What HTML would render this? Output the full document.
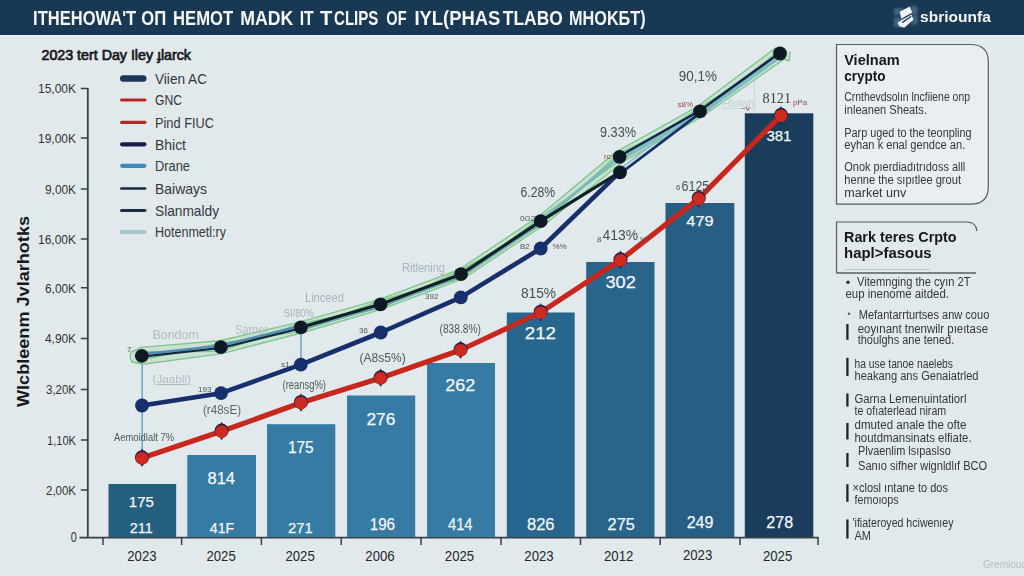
<!DOCTYPE html>
<html>
<head>
<meta charset="utf-8">
<title>Chart</title>
<style>
  html, body { margin: 0; padding: 0; }
  body { width: 1024px; height: 576px; overflow: hidden; background: #e2e9ec; font-family: "Liberation Sans", sans-serif; }
  svg { display: block; position: absolute; left: 0; top: 0; }
  svg text { font-family: "Liberation Sans", sans-serif; }
  .wl { fill: #f3f7fa; stroke: #f3f7fa; stroke-width: 0.25px; }
  .yl { fill: #2f3438; font-size: 13.5px; }
  .xl { fill: #22272c; font-size: 15px; }
  .lg { fill: #33383d; font-size: 15px; }
  .sm { fill: #b1bbc1; font-size: 12px; }
  .sd { fill: #50575d; font-size: 12.5px; }
  .md { fill: #474e54; font-size: 14px; }
  .pt { fill: #32373b; font-size: 12.5px; }
  .ph { fill: #14171a; font-size: 15px; font-weight: bold; }
</style>
</head>
<body>
<svg width="1024" height="576" viewBox="0 0 1024 576">
  <defs>
    <filter id="soft" filterUnits="userSpaceOnUse" x="0" y="0" width="1024" height="576"><feGaussianBlur stdDeviation="0.45"/></filter>
    <filter id="soft2" filterUnits="userSpaceOnUse" x="0" y="0" width="1024" height="576"><feGaussianBlur stdDeviation="0.9"/></filter>
  </defs>
  <rect x="0" y="0" width="1024" height="576" fill="#e2e9ec"/>

  <rect x="0" y="35" width="1024" height="1.200" fill="#edf2f4"/>
  <rect x="0" y="0" width="1024" height="35" fill="#183853"/>
  <g font-size="21" font-weight="bold" fill="#f5f7f9" filter="url(#soft)">
    <text x="33.1" y="25" textLength="103.1" lengthAdjust="spacingAndGlyphs">ITHEHOWA'T</text>
    <text x="141.3" y="25" textLength="24.9" lengthAdjust="spacingAndGlyphs">OΠ</text>
    <text x="173.1" y="25" textLength="60" lengthAdjust="spacingAndGlyphs">HEMOT</text>
    <text x="240.3" y="25" textLength="53.1" lengthAdjust="spacingAndGlyphs">MADK</text>
    <text x="299.7" y="25" textLength="14" lengthAdjust="spacingAndGlyphs">IT</text>
    <text x="320" y="25" textLength="12.3" lengthAdjust="spacingAndGlyphs">T</text>
    <text x="334" y="25" textLength="44.4" lengthAdjust="spacingAndGlyphs">CLIPS</text>
    <text x="386.3" y="25" textLength="20.3" lengthAdjust="spacingAndGlyphs">OF</text>
    <text x="414.4" y="25" textLength="85.9" lengthAdjust="spacingAndGlyphs">IYL(PHAS</text>
    <text x="502.8" y="25" textLength="60" lengthAdjust="spacingAndGlyphs">TLABO</text>
    <text x="569" y="25" textLength="76.6" lengthAdjust="spacingAndGlyphs">MHOKБT)</text>
  </g>
  <g id="logo">
    <g fill="#9bb9d4" opacity="0.330" filter="url(#soft2)">
      <rect x="894" y="8" width="9.500" height="7"/>
      <rect x="910.500" y="6" width="7" height="8"/>
      <rect x="894" y="17.500" width="8.500" height="9.500"/>
      <rect x="911.500" y="15" width="6" height="9.500"/>
    </g>
    <g fill="#f1f5f8" filter="url(#soft)">
      <path d="M899.800 11.800 L909.600 6.400 L912.300 12.600 L901.300 18.700 Z"/>
      <path d="M897.600 22.400 L911.400 14.600 L913.400 19.800 L904.300 27.800 L899.300 26.300 Z"/>
    </g>
    <path d="M902.300 22.600 L911.200 16.200" stroke="#183853" stroke-width="1.300" fill="none"/>
  </g>
  <text x="920" y="22.300" font-size="15.500" font-weight="bold" fill="#f5f7f9" textLength="70.800" lengthAdjust="spacingAndGlyphs" filter="url(#soft)">sbriounfa</text>
  <text x="41.500" y="60" font-size="14.500" fill="#15191d" stroke="#15191d" stroke-width="0.700" textLength="149.500" lengthAdjust="spacingAndGlyphs">2023 tert Day Iley ɟlarck</text>
  <g id="legend" stroke-linecap="round">
    <line x1="123.25" y1="78.5" x2="143.25" y2="78.5" stroke="#1d3759" stroke-width="6.5"/>
    <line x1="121.6" y1="100" x2="144.9" y2="100" stroke="#b32a22" stroke-width="3.2"/>
    <line x1="121.6" y1="122.3" x2="144.9" y2="122.3" stroke="#b32a22" stroke-width="3.2"/>
    <line x1="122.1" y1="144.3" x2="144.4" y2="144.3" stroke="#191c47" stroke-width="4.2"/>
    <line x1="122.1" y1="165.8" x2="144.4" y2="165.8" stroke="#3f8cba" stroke-width="4.2"/>
    <line x1="121.3" y1="188.5" x2="145.2" y2="188.5" stroke="#1b2d40" stroke-width="2.6"/>
    <line x1="121.6" y1="210.5" x2="144.9" y2="210.5" stroke="#1b2d40" stroke-width="3.2"/>
    <line x1="122.1" y1="232" x2="144.4" y2="232" stroke="#a6c5cf" stroke-width="4.2"/>
  </g>
  <g class="lg">
    <text x="155" y="83.7" textLength="52" lengthAdjust="spacingAndGlyphs">Viien AC</text>
    <text x="155" y="105.2" textLength="27" lengthAdjust="spacingAndGlyphs">GNC</text>
    <text x="155" y="127.5" textLength="59" lengthAdjust="spacingAndGlyphs">Pind FIUC</text>
    <text x="155" y="149.5" textLength="31" lengthAdjust="spacingAndGlyphs">Bhict</text>
    <text x="155" y="171" textLength="35" lengthAdjust="spacingAndGlyphs">Drane</text>
    <text x="155" y="193.7" textLength="52" lengthAdjust="spacingAndGlyphs">Baiways</text>
    <text x="155" y="215.7" textLength="64" lengthAdjust="spacingAndGlyphs">Slanmaldy</text>
    <text x="155" y="237.2" textLength="71" lengthAdjust="spacingAndGlyphs">Hotenmetl:ry</text>
  </g>
  <g stroke="#3a4147" fill="none">
    <path d="M87.800 88 V538" stroke-width="1.800"/>
    <path d="M80.800 88.5 H87.500 M80.800 138 H87.500 M80.800 189 H87.500 M80.800 239 H87.500 M80.800 287.8 H87.500 M80.800 338.5 H87.500 M80.800 389.5 H87.500 M80.800 440 H87.500 M80.800 490 H87.500" stroke-width="1.500"/>
    <path d="M79.500 537.700 H818.700" stroke-width="1.700"/>
    <path d="M103 537.700 V545 M181.6 537.700 V545 M261.4 537.700 V545 M341.2 537.700 V545 M421 537.700 V545 M501 537.700 V545 M580.5 537.700 V545 M660.2 537.700 V545 M740 537.700 V545 M818 537.700 V545" stroke-width="1.500"/>
  </g>
  <g class="yl">
    <text x="38" y="93.3" textLength="38" lengthAdjust="spacingAndGlyphs">15,00K</text>
    <text x="38" y="142.8" textLength="38" lengthAdjust="spacingAndGlyphs">19,00K</text>
    <text x="45" y="193.8" textLength="31" lengthAdjust="spacingAndGlyphs">9,00K</text>
    <text x="38" y="243.8" textLength="38" lengthAdjust="spacingAndGlyphs">16,00K</text>
    <text x="45" y="292.6" textLength="31" lengthAdjust="spacingAndGlyphs">6,00K</text>
    <text x="45" y="343.3" textLength="31" lengthAdjust="spacingAndGlyphs">4,90K</text>
    <text x="46" y="394.3" textLength="30" lengthAdjust="spacingAndGlyphs">3,20K</text>
    <text x="47" y="444.8" textLength="29" lengthAdjust="spacingAndGlyphs">1,10K</text>
    <text x="46" y="494.8" textLength="30" lengthAdjust="spacingAndGlyphs">2,00K</text>
    <text x="70.800" y="541.500" font-size="14" textLength="6" lengthAdjust="spacingAndGlyphs">0</text>
  </g>
  <text transform="translate(28.700,311.500) rotate(-90)" font-size="16" font-weight="bold" fill="#15191d" text-anchor="middle" textLength="191" lengthAdjust="spacingAndGlyphs">Wlcbleenm Jvlarhotks</text>
  <g id="bars">
    <rect x="108.5" y="484" width="67.7" height="53" fill="#245f7f"/>
    <rect x="187.3" y="455" width="68.7" height="82" fill="#357ba4"/>
    <rect x="267" y="424.2" width="68.3" height="112.8" fill="#357ba4"/>
    <rect x="347" y="395.5" width="68.2" height="141.5" fill="#357ba4"/>
    <rect x="427" y="363" width="68" height="174" fill="#357ba4"/>
    <rect x="506.8" y="312.5" width="67.9" height="224.5" fill="#27678d"/>
    <rect x="586.2" y="262" width="68.3" height="275" fill="#29648b"/>
    <rect x="665.5" y="203" width="68.8" height="334" fill="#275e83"/>
    <rect x="744.8" y="113.3" width="68.5" height="423.7" fill="#1a3d5b"/>
  </g>
  <g class="xl">
    <text x="127.25" y="561.3" textLength="29.300" lengthAdjust="spacingAndGlyphs">2023</text>
    <text x="206.45" y="561.3" textLength="29.300" lengthAdjust="spacingAndGlyphs">2025</text>
    <text x="285.45" y="561.3" textLength="29.300" lengthAdjust="spacingAndGlyphs">2025</text>
    <text x="365.35" y="561.3" textLength="29.300" lengthAdjust="spacingAndGlyphs">2006</text>
    <text x="444.85" y="561.3" textLength="29.300" lengthAdjust="spacingAndGlyphs">2025</text>
    <text x="524.35" y="561.3" textLength="29.300" lengthAdjust="spacingAndGlyphs">2023</text>
    <text x="604.05" y="561.3" textLength="29.300" lengthAdjust="spacingAndGlyphs">2012</text>
    <text x="682.95" y="560" textLength="29.300" lengthAdjust="spacingAndGlyphs">2023</text>
    <text x="762.95" y="561.3" textLength="29.300" lengthAdjust="spacingAndGlyphs">2025</text>
  </g>
  <g class="wl">
    <text x="128.8" y="507.4" style="font-size:15.5px" textLength="25" lengthAdjust="spacingAndGlyphs">175</text>
    <text x="129.8" y="532.6" style="font-size:15.5px" textLength="23" lengthAdjust="spacingAndGlyphs">211</text>
    <text x="207.55" y="483.5" style="font-size:16px" textLength="27.5" lengthAdjust="spacingAndGlyphs">814</text>
    <text x="209.8" y="532.6" style="font-size:15.5px" textLength="24.4" lengthAdjust="spacingAndGlyphs">41F</text>
    <text x="287.95" y="452.6" style="font-size:16px" textLength="25.7" lengthAdjust="spacingAndGlyphs">175</text>
    <text x="288.05" y="532.6" style="font-size:15.5px" textLength="24.7" lengthAdjust="spacingAndGlyphs">271</text>
    <text x="366.5" y="425" style="font-size:16.7px" textLength="28.8" lengthAdjust="spacingAndGlyphs">276</text>
    <text x="369.75" y="530.3" style="font-size:16px" textLength="25.3" lengthAdjust="spacingAndGlyphs">196</text>
    <text x="445.3" y="391.4" style="font-size:17px" textLength="29.8" lengthAdjust="spacingAndGlyphs">262</text>
    <text x="448" y="530.3" style="font-size:16px" textLength="24.4" lengthAdjust="spacingAndGlyphs">414</text>
    <text x="524.8" y="339.4" style="font-size:17px" textLength="31" lengthAdjust="spacingAndGlyphs">212</text>
    <text x="527.05" y="530.3" style="font-size:16px" textLength="27.5" lengthAdjust="spacingAndGlyphs">826</text>
    <text x="605.45" y="287.8" style="font-size:17px" textLength="30.3" lengthAdjust="spacingAndGlyphs">302</text>
    <text x="607.6" y="530.3" style="font-size:16px" textLength="27.2" lengthAdjust="spacingAndGlyphs">275</text>
    <text x="686.35" y="225.5" style="font-size:15.5px" textLength="27.3" lengthAdjust="spacingAndGlyphs">479</text>
    <text x="686.65" y="527.9" style="font-size:16px" textLength="26.7" lengthAdjust="spacingAndGlyphs">249</text>
    <text x="766.4" y="141.3" style="font-size:15.5px" textLength="25" lengthAdjust="spacingAndGlyphs">381</text>
    <text x="766.35" y="527.9" style="font-size:16px" textLength="26.7" lengthAdjust="spacingAndGlyphs">278</text>
  </g>
  <g stroke="#6fa3c6" stroke-width="1.500" fill="none"><path d="M142.200 356 V458 M301 327 V365"/></g>
  <g stroke="#cdd5d9" stroke-width="1" fill="none"><path d="M754.500 81 V111 M722 108.500 H754.500"/></g>
  <path d="M131.5 351 L140.88 347.35 L219.66 340.8 L299.37 322.09 L378.92 299.55 L458.7 269.76 L537.73 217.18 L616.19 151.86 L697.02 106.78 L775.9 47.83 L790 52 L789 61 L784.1 59.17 L702.98 116.02 L623.01 161.74 L543.67 225.22 L463.3 278.64 L382.08 309.05 L302.23 332.71 L221.94 353.6 L142.72 364.25 L132 362 Z" fill="#a6d9ae" fill-opacity="0.420" stroke="none"/>
  <g fill="none" stroke="#7cc58a" stroke-width="1.400" stroke-linejoin="round" stroke-linecap="round" opacity="0.950">
    <path d="M131.5 352 L140.88 347.35 L219.66 340.8 L299.37 322.09 L378.92 299.55 L458.7 269.76 L537.73 217.18 L616.19 151.86 L697.02 106.78 L775.9 47.83"/>
    <path d="M132 362 L142.72 364.25 L221.94 353.6 L302.23 332.71 L382.08 309.05 L463.3 278.64 L543.67 225.22 L623.01 161.74 L702.98 116.02 L784.1 59.17 L789 61 L790 52"/>
    <path d="M141.8 351.8 L220.8 351.2 L300.8 323.4 L380.5 308.3 L461 270.2 L540.7 225.2 L619.6 152.8 L700 115.4 L780 49.5"/>
    <path d="M141.8 359.8 L220.8 343.2 L300.8 331.4 L380.5 300.3 L461 278.2 L540.7 217.2 L619.6 160.8 L700 107.4 L780 57.5"/>
    <path d="M131.500 352 Q128.500 357 132 362"/>
  </g>
  <path d="M141.8 354.2 L220.8 345.6 L300.8 325.8" fill="none" stroke="#4f8db8" stroke-width="2.400" stroke-linejoin="round"/>
  <path d="M301.4 329.8 L381.1 306.7 L461.6 276.6 L541.3 223.6" fill="none" stroke="#5a97b4" stroke-width="1.600" stroke-linejoin="round" opacity="0.800"/>
  <path d="M620.1 157.8 L700.5 112.4 L780.5 54.5" fill="none" stroke="#7ab8c2" stroke-width="6.500" stroke-linejoin="round" stroke-linecap="butt" opacity="0.900"/>
  <path d="M540.7 221.2 L619.6 156.8" fill="none" stroke="#7ab4bd" stroke-width="3" stroke-linejoin="round" stroke-linecap="round" opacity="0.950"/>
  <path d="M619.8 169.2 L700 108.4" fill="none" stroke="#86c0c1" stroke-width="2" stroke-linejoin="round" opacity="0.900"/>
  <path d="M142 405.5 L221 393.2 L300.8 364.7 L380.8 332.5 L460.8 297.4 L540.7 248.5 L619.8 172.2" fill="none" stroke="#17306b" stroke-width="4.600" stroke-linejoin="round" stroke-linecap="round"/>
  <path d="M620.4 173.4 L700.6 112.6" fill="none" stroke="#17306b" stroke-width="2.600" stroke-linejoin="round" stroke-linecap="round"/>
  <path d="M141.8 356.6 L220.8 348 L300.8 328.2" fill="none" stroke="#13283a" stroke-width="2.200" stroke-linejoin="round" stroke-linecap="round"/>
  <path d="M300.8 327.4 L380.5 304.3 L461 274.2 L540.7 221.2 L619.8 172.2" fill="none" stroke="#0f2226" stroke-width="3.200" stroke-linejoin="round" stroke-linecap="round"/>
  <path d="M619.3 156.2 L699.7 110.8 L779.7 52.9" fill="none" stroke="#11233f" stroke-width="2.300" stroke-linejoin="round" stroke-linecap="round"/>
  <path d="M142 458 L221.6 431.3 L301 402.7 L380.6 378 L460.6 350 L540.7 312.4 L620.5 260 L698.7 198.6 L781 115.5" fill="none" stroke="#c8271e" stroke-width="5.200" stroke-linejoin="round" stroke-linecap="round"/>
  <g fill="#17306b">
    <circle cx="142" cy="405.5" r="6.900"/>
    <circle cx="221" cy="393.2" r="6.900"/>
    <circle cx="300.8" cy="364.7" r="6.900"/>
    <circle cx="380.8" cy="332.5" r="6.900"/>
    <circle cx="460.8" cy="297.4" r="6.900"/>
    <circle cx="540.7" cy="248.5" r="6.900"/>
  </g>
  <g fill="#0e1926">
    <circle cx="141.8" cy="355.8" r="6.900"/>
    <circle cx="220.8" cy="347.2" r="6.900"/>
    <circle cx="300.8" cy="327.4" r="6.900"/>
    <circle cx="380.5" cy="304.3" r="6.900"/>
    <circle cx="461" cy="274.2" r="6.900"/>
    <circle cx="540.7" cy="221.2" r="6.900"/>
    <circle cx="619.6" cy="156.8" r="6.900"/>
    <circle cx="700" cy="111.4" r="6.900"/>
    <circle cx="780" cy="53.5" r="6.900"/>
    <circle cx="620" cy="172.3" r="6.900"/>
  </g>
  <g>
    <path d="M137 458 L142 448.5 L147 458 L142 467 Z" fill="#1f1d4a"/>
    <circle cx="142" cy="457.4" r="7.100" fill="#2a1f4a"/>
    <circle cx="142" cy="458.3" r="6.300" fill="#d02a20"/>
    <path d="M216.6 431.3 L221.6 421.8 L226.6 431.3 L221.6 440.3 Z" fill="#1f1d4a"/>
    <circle cx="221.6" cy="430.7" r="7.100" fill="#2a1f4a"/>
    <circle cx="221.6" cy="431.6" r="6.300" fill="#d02a20"/>
    <path d="M296 402.7 L301 393.2 L306 402.7 L301 411.7 Z" fill="#1f1d4a"/>
    <circle cx="301" cy="402.1" r="7.100" fill="#2a1f4a"/>
    <circle cx="301" cy="403" r="6.300" fill="#d02a20"/>
    <path d="M375.6 378 L380.6 368.5 L385.6 378 L380.6 387 Z" fill="#1f1d4a"/>
    <circle cx="380.6" cy="377.4" r="7.100" fill="#2a1f4a"/>
    <circle cx="380.6" cy="378.3" r="6.300" fill="#d02a20"/>
    <path d="M455.6 350 L460.6 340.5 L465.6 350 L460.6 359 Z" fill="#1f1d4a"/>
    <circle cx="460.6" cy="349.4" r="7.100" fill="#2a1f4a"/>
    <circle cx="460.6" cy="350.3" r="6.300" fill="#d02a20"/>
    <path d="M535.7 312.4 L540.7 302.9 L545.7 312.4 L540.7 321.4 Z" fill="#1f1d4a"/>
    <circle cx="540.7" cy="311.8" r="7.100" fill="#2a1f4a"/>
    <circle cx="540.7" cy="312.7" r="6.300" fill="#d02a20"/>
    <path d="M615.5 260 L620.5 250.5 L625.5 260 L620.5 269 Z" fill="#1f1d4a"/>
    <circle cx="620.5" cy="259.4" r="7.100" fill="#2a1f4a"/>
    <circle cx="620.5" cy="260.3" r="6.300" fill="#d02a20"/>
    <path d="M693.7 198.6 L698.7 189.1 L703.7 198.6 L698.7 207.6 Z" fill="#1f1d4a"/>
    <circle cx="698.7" cy="198" r="7.100" fill="#2a1f4a"/>
    <circle cx="698.7" cy="198.9" r="6.300" fill="#d02a20"/>
    <path d="M776 115.5 L781 106 L786 115.5 L781 124.5 Z" fill="#1f1d4a"/>
    <circle cx="781" cy="114.9" r="7.100" fill="#2a1f4a"/>
    <circle cx="781" cy="115.8" r="6.300" fill="#d02a20"/>
  </g>
  <g filter="url(#soft)">
    <text class="md" x="520.5" y="197" textLength="34.5" lengthAdjust="spacingAndGlyphs">6.28%</text>
    <text class="md" x="600" y="137" textLength="36" lengthAdjust="spacingAndGlyphs">9.33%</text>
    <text class="md" x="678.8" y="80.5" textLength="38.2" lengthAdjust="spacingAndGlyphs">90,1%</text>
    <text class="md" x="762.5" y="103" textLength="28.5" lengthAdjust="spacingAndGlyphs" style="font-family:'Liberation Serif';font-size:15px;fill:#3e4348">8121</text>
    <text class="md" x="681.5" y="190.8" textLength="27.8" lengthAdjust="spacingAndGlyphs">6125</text>
    <text class="md" x="602.5" y="240" textLength="35.5" lengthAdjust="spacingAndGlyphs">413%</text>
    <text class="md" x="521" y="298" textLength="35" lengthAdjust="spacingAndGlyphs">815%</text>
    <text class="sd" x="203" y="414" textLength="38" lengthAdjust="spacingAndGlyphs" style="fill:#5d646a">(r48sE)</text>
    <text class="sd" x="282.5" y="388.8" textLength="43.5" lengthAdjust="spacingAndGlyphs">(reansg%)</text>
    <text class="sd" x="359.5" y="361.8" textLength="46.2" lengthAdjust="spacingAndGlyphs">(A8s5%)</text>
    <text class="sd" x="439.5" y="332.5" textLength="41.5" lengthAdjust="spacingAndGlyphs">(838.8%)</text>
    <text class="sd" x="114" y="441.3" textLength="60" lengthAdjust="spacingAndGlyphs" style="font-size:10.500px">Aemoidlalt 7%</text>
  </g>
  <g filter="url(#soft)">
    <text class="sm" x="152.5" y="338.8" textLength="46.3" lengthAdjust="spacingAndGlyphs">Bondom</text>
    <text class="sm" x="235" y="333.8" textLength="33" lengthAdjust="spacingAndGlyphs">Sarner</text>
    <text class="sm" x="305" y="302" textLength="38.8" lengthAdjust="spacingAndGlyphs" style="font-size:12.500px;fill:#a7b3b9">Linceed</text>
    <text class="sm" x="402" y="272" textLength="43" lengthAdjust="spacingAndGlyphs" style="font-size:12.500px;fill:#a7b6bd">Ritlening</text>
    <text class="sm" x="283.8" y="317" textLength="30" lengthAdjust="spacingAndGlyphs" style="font-size:11px;fill:#a9b2b7">SI/80%</text>
    <text class="sm" x="152.5" y="383" textLength="38.5" lengthAdjust="spacingAndGlyphs" style="font-size:11.500px;text-decoration:underline">(Jaabll)</text>
    <text class="sm" x="722.5" y="107" textLength="31.5" lengthAdjust="spacingAndGlyphs" style="font-size:11px;fill:#c6ced3">Hlotah</text>
  </g>
  <g filter="url(#soft)" font-size="8" fill="#4d5459">
    <text x="198" y="392">193</text>
    <text x="281" y="366.5">s1</text>
    <text x="520" y="220.5">0G2</text>
    <text x="520" y="249">B2</text>
    <text x="552.5" y="249">%%</text>
    <text x="425" y="299">392</text>
    <text x="359" y="333">36</text>
    <text x="597" y="241.5">8</text>
    <text x="640" y="241.5">%</text>
    <text x="676" y="190">6</text>
    <text x="127" y="352">7</text>
  </g>
  <g filter="url(#soft)" font-size="8" fill="#8f4a45">
    <text x="677.5" y="107">s8%</text>
    <text x="604" y="159">rc</text>
    <text x="793" y="104.5">pPa</text>
    <text x="741" y="110.5">~v</text>
  </g>
  <path d="M836.500 44.500 H970.500 Q988.300 44.500 988.300 62 V186.500 Q988.300 204.200 970.500 204.200 H836.500 Z" fill="#e9eef1" stroke="#555d63" stroke-width="1.200"/>
  <g filter="url(#soft)">
    <text class="ph" x="844.2" y="64.5" textLength="55.5" lengthAdjust="spacingAndGlyphs">Vielnam</text>
    <text class="ph" x="844.2" y="80.8" textLength="41.3" lengthAdjust="spacingAndGlyphs">crypto</text>
    <text class="pt" x="844.3" y="101.4" textLength="125.7" lengthAdjust="spacingAndGlyphs">Crnthevdsolın lncfiiene onp</text>
    <text class="pt" x="844.3" y="113.5" textLength="82.7" lengthAdjust="spacingAndGlyphs">inleanen Sheats.</text>
    <text class="pt" x="844.3" y="137.3" textLength="127.3" lengthAdjust="spacingAndGlyphs">Parp uged to the teonpling</text>
    <text class="pt" x="844.3" y="149.3" textLength="121" lengthAdjust="spacingAndGlyphs">eyhan k enal gendce an.</text>
    <text class="pt" x="844.3" y="171" textLength="121" lengthAdjust="spacingAndGlyphs">Onok pıerdiadıtrıdoss alll</text>
    <text class="pt" x="844.3" y="184.2" textLength="116.7" lengthAdjust="spacingAndGlyphs">henne the sıpıtlee grout</text>
    <text class="pt" x="844.3" y="197" textLength="62" lengthAdjust="spacingAndGlyphs">market unv</text>
  </g>
  <path d="M836.500 273 V222 H966 Q976.500 222 976.800 231" fill="none" stroke="#555d63" stroke-width="1.200"/>
  <path d="M836.500 273 H976" fill="none" stroke="#555d63" stroke-width="1.300"/>
  <path d="M845 269.500 H930" fill="none" stroke="#b9c1c6" stroke-width="1"/>
  <g filter="url(#soft)">
    <text class="ph" x="844" y="241.8" textLength="112.6" lengthAdjust="spacingAndGlyphs">Rark teres Crpto</text>
    <text class="ph" x="844" y="257.8" textLength="87.6" lengthAdjust="spacingAndGlyphs">hapl&gt;fasous</text>
    <text class="pt" x="857" y="286" textLength="113.5" lengthAdjust="spacingAndGlyphs">Vitemnging the cyın 2T</text>
    <text class="pt" x="845.5" y="297.5" textLength="103.5" lengthAdjust="spacingAndGlyphs">eup inenome aitded.</text>
    <text class="pt" x="858.7" y="319" textLength="130.6" lengthAdjust="spacingAndGlyphs">Mefantarrturtses anw couo</text>
    <text class="pt" x="857.7" y="332.6" textLength="130.3" lengthAdjust="spacingAndGlyphs">eoyınant tnenwilr pıeıtase</text>
    <text class="pt" x="857.7" y="344.2" textLength="96.5" lengthAdjust="spacingAndGlyphs">thoulghs ane tened.</text>
    <text class="pt" x="854.5" y="367.5" textLength="98.5" lengthAdjust="spacingAndGlyphs">ha use tanoe naelebs</text>
    <text class="pt" x="854.5" y="380" textLength="124" lengthAdjust="spacingAndGlyphs">heakang ans Genaiatrled</text>
    <text class="pt" x="854.5" y="403" textLength="111.9" lengthAdjust="spacingAndGlyphs">Garna Lemenuintatiorl</text>
    <text class="pt" x="854.5" y="415.4" textLength="91.7" lengthAdjust="spacingAndGlyphs">te ofıaterlead niram</text>
    <text class="pt" x="854.5" y="428.8" textLength="111.9" lengthAdjust="spacingAndGlyphs">dmuted anale the ofte</text>
    <text class="pt" x="854.5" y="442" textLength="117.1" lengthAdjust="spacingAndGlyphs">houtdmansinats elfiate.</text>
    <text class="pt" x="858" y="455.2" textLength="92.7" lengthAdjust="spacingAndGlyphs">Plvaenlim lsıpaslso</text>
    <text class="pt" x="858" y="469.6" textLength="129.2" lengthAdjust="spacingAndGlyphs">Sanıo sifher wignldlıf BCO</text>
    <text class="pt" x="852.5" y="491.6" textLength="95.5" lengthAdjust="spacingAndGlyphs">×closl ıntane to dos</text>
    <text class="pt" x="854.5" y="504" textLength="44.2" lengthAdjust="spacingAndGlyphs">femoıops</text>
    <text class="pt" x="852.5" y="527" textLength="101" lengthAdjust="spacingAndGlyphs">'ifiateroyed hciwenıey</text>
    <text class="pt" x="854.5" y="540" textLength="16.5" lengthAdjust="spacingAndGlyphs">AM</text>
  </g>
  <circle cx="848" cy="282.300" r="1.700" fill="#2a2f33"/>
  <circle cx="849" cy="313.700" r="1.300" fill="#596066"/>
  <g stroke="#1f2428" stroke-width="2.300" fill="none"><path d="M847.400 324 V339.7 M847.400 357.8 V376 M847.400 393.4 V406.5 M847.400 422.9 V439.5 M847.400 453 V467 M847.400 484.3 V501.7 M847.400 519.4 V538.5"/></g>
  <text x="983" y="568" font-size="10" fill="#b5bec3" filter="url(#soft)">Gremiouca</text>
</svg>
</body>
</html>
